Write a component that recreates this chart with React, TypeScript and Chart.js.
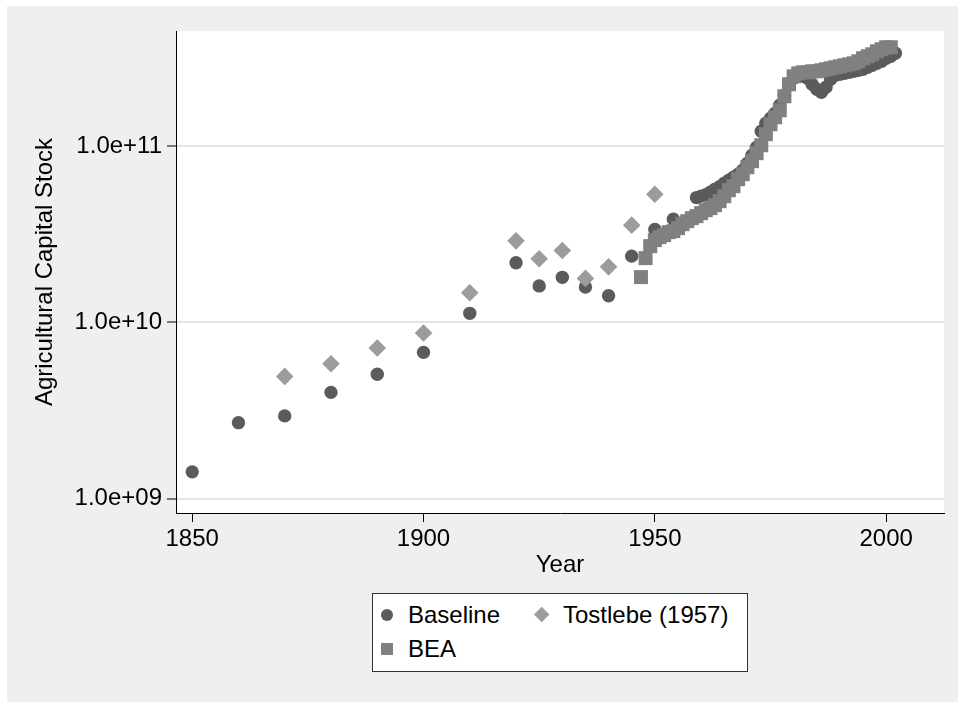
import React, { useEffect, useRef } from 'react';
import { Chart, registerables } from 'chart.js';

Chart.register(...registerables);

// ---------- data ----------
const baselineYears = [
  1850, 1860, 1870, 1880, 1890, 1900, 1910, 1920, 1925, 1930, 1935, 1940, 1945, 1950, 1954,
  1959, 1960, 1961, 1962, 1963, 1964, 1965, 1966, 1967, 1968, 1969, 1970, 1971, 1972, 1973,
  1974, 1975, 1976, 1977, 1978, 1979, 1980, 1981, 1982, 1983, 1984, 1985, 1986, 1987, 1988,
  1989, 1990, 1991, 1992, 1993, 1994, 1995, 1996, 1997, 1998, 1999, 2000, 2001, 2002,
];
const baselineValues = [
  1.42e9, 2.70e9, 2.95e9, 4.01e9, 5.08e9, 6.76e9, 1.125e10, 2.18e10, 1.61e10, 1.80e10, 1.585e10, 1.415e10, 2.375e10, 3.365e10, 3.85e10,
  5.10e10, 5.20e10, 5.30e10, 5.47e10, 5.69e10, 5.88e10, 6.15e10, 6.40e10, 6.66e10, 6.92e10, 7.29e10, 7.99e10, 8.87e10, 9.84e10, 1.213e11,
  1.347e11, 1.437e11, 1.534e11, 1.703e11, 1.941e11, 2.269e11, 2.422e11, 2.486e11, 2.486e11, 2.422e11, 2.239e11, 2.098e11, 2.017e11, 2.154e11, 2.391e11,
  2.518e11, 2.551e11, 2.585e11, 2.619e11, 2.653e11, 2.688e11, 2.724e11, 2.796e11, 2.870e11, 2.945e11, 3.024e11, 3.145e11, 3.228e11, 3.357e11,
];

const tostlebeYears = [1870, 1880, 1890, 1900, 1910, 1920, 1925, 1930, 1935, 1940, 1945, 1950];
const tostlebeValues = [4.94e9, 5.83e9, 7.15e9, 8.70e9, 1.471e10, 2.90e10, 2.293e10, 2.558e10, 1.776e10, 2.065e10, 3.558e10, 5.33e10];

const beaYears = [
  1947, 1948, 1949, 1950, 1951, 1952, 1953, 1954, 1955, 1956, 1957, 1958, 1959, 1960, 1961,
  1962, 1963, 1964, 1965, 1966, 1967, 1968, 1969, 1970, 1971, 1972, 1973, 1974, 1975, 1976,
  1977, 1978, 1979, 1980, 1981, 1982, 1983, 1984, 1985, 1986, 1987, 1988, 1989, 1990, 1991,
  1992, 1993, 1994, 1995, 1996, 1997, 1998, 1999, 2000, 2001,
];
const beaValues = [
  1.806e10, 2.314e10, 2.706e10, 2.927e10, 3.043e10, 3.123e10, 3.248e10, 3.291e10, 3.422e10, 3.605e10, 3.749e10, 3.899e10, 4.003e10, 4.162e10, 4.328e10,
  4.443e10, 4.620e10, 4.868e10, 5.195e10, 5.618e10, 5.919e10, 6.485e10, 6.922e10, 7.585e10, 8.203e10, 9.105e10, 1.010e11, 1.167e11, 1.329e11, 1.456e11,
  1.595e11, 1.915e11, 2.239e11, 2.486e11, 2.585e11, 2.619e11, 2.619e11, 2.653e11, 2.653e11, 2.688e11, 2.724e11, 2.760e11, 2.796e11, 2.833e11, 2.870e11,
  2.907e11, 2.945e11, 3.024e11, 3.145e11, 3.228e11, 3.313e11, 3.445e11, 3.535e11, 3.630e11, 3.630e11,
];

const xTickValues = [1850, 1900, 1950, 2000];
const yTickValues = [1e9, 1e10, 1e11];
const yTickLabels = ['1.0e+09', '1.0e+10', '1.0e+11'];

const seriesLabels = ['Baseline', 'Tostlebe (1957)', 'BEA'];

// ---------- style ----------
const FONT = '"Liberation Sans", Arial, Helvetica, sans-serif';
const BASE_COLOR = '#5b5b5b';
const TOST_COLOR = '#9c9c9c';
const BEA_COLOR = '#808080';
const BG_GRAY = '#efefef';

const bgPlugin = {
  id: 'stataBg',
  beforeDraw(chart: any) {
    const { ctx, width, height, chartArea } = chart;
    ctx.save();
    ctx.fillStyle = '#ffffff';
    ctx.fillRect(0, 0, width, height);
    ctx.fillStyle = BG_GRAY;
    ctx.fillRect(7, 6, width - 7, height - 6);
    ctx.fillStyle = '#ffffff';
    ctx.fillRect(chartArea.left, chartArea.top, chartArea.right - chartArea.left, chartArea.bottom - chartArea.top);
    ctx.restore();
  },
};

function pts(xs: number[], ys: number[]) {
  return xs.map((x, i) => ({ x, y: ys[i] }));
}

export default function App() {
  const canvasRef = useRef<HTMLCanvasElement | null>(null);

  useEffect(() => {
    if (!canvasRef.current) return;
    Chart.defaults.font.family = FONT;
    const chart = new Chart(canvasRef.current, {
      type: 'scatter',
      data: {
        datasets: [
          {
            label: seriesLabels[0],
            data: pts(baselineYears, baselineValues),
            pointStyle: 'circle',
            pointRadius: 6.7,
            backgroundColor: BASE_COLOR,
            borderColor: BASE_COLOR,
            borderWidth: 0,
            order: 3,
          },
          {
            label: seriesLabels[1],
            data: pts(tostlebeYears, tostlebeValues),
            pointStyle: 'rectRot',
            pointRadius: 8.8,
            backgroundColor: TOST_COLOR,
            borderColor: TOST_COLOR,
            borderWidth: 0,
            order: 2,
          },
          {
            label: seriesLabels[2],
            data: pts(beaYears, beaValues),
            pointStyle: 'rect',
            pointRadius: 9.9,
            backgroundColor: BEA_COLOR,
            borderColor: BEA_COLOR,
            borderWidth: 0,
            order: 1,
          },
        ] as any,
      },
      options: {
        animation: false,
        responsive: false,
        maintainAspectRatio: false,
        events: [],
        layout: { padding: { left: 0, top: 31, right: 14, bottom: 119 } },
        plugins: { legend: { display: false }, tooltip: { enabled: false } },
        scales: {
          x: {
            type: 'linear',
            min: 1846.5,
            max: 2012.5,
            afterBuildTicks: (s: any) => {
              s.ticks = xTickValues.map((v) => ({ value: v }));
            },
            afterFit: (s: any) => {
              s.height = 70;
            },
            grid: { drawOnChartArea: false, drawTicks: true, tickLength: 9, tickColor: '#000', tickWidth: 1 },
            border: { display: true, color: '#000', width: 1 },
            ticks: {
              color: '#000',
              font: { size: 24 },
              padding: 3,
              maxRotation: 0,
              autoSkip: false,
              callback: (v: any) => String(v),
            },
            title: { display: true, text: 'Year', color: '#000', font: { size: 24 }, padding: { top: 0, bottom: 3.6 } },
          },
          y: {
            type: 'logarithmic',
            min: 8.3e8,
            max: 4.49e11,
            afterBuildTicks: (s: any) => {
              s.ticks = yTickValues.map((v) => ({ value: v }));
            },
            afterFit: (s: any) => {
              s.width = 176;
            },
            grid: { color: '#e4e4e4', lineWidth: 2, drawTicks: true, tickLength: 9, tickColor: '#000', tickWidth: 1 },
            border: { display: true, color: '#000', width: 1 },
            ticks: {
              color: '#000',
              font: { size: 24 },
              padding: 5,
              autoSkip: false,
              callback: (v: any) => {
                const i = yTickValues.indexOf(Number(v));
                return i >= 0 ? yTickLabels[i] : '';
              },
            },
            title: {
              display: true,
              text: 'Agricultural Capital Stock',
              color: '#000',
              font: { size: 24 },
              padding: { top: 30.6, bottom: 0 },
            },
          },
        },
      } as any,
      plugins: [bgPlugin],
    });
    return () => chart.destroy();
  }, []);

  const textStyle = (left: number, cy: number): React.CSSProperties => ({
    position: 'absolute',
    left,
    top: cy - 14,
    height: 28,
    lineHeight: '28px',
    fontSize: 24,
    fontFamily: FONT,
    color: '#000',
    whiteSpace: 'nowrap',
  });

  return (
    <div style={{ position: 'fixed', left: 0, top: 0, width: 958, height: 702, background: '#fff' }}>
      <canvas ref={canvasRef} width={958} height={702} style={{ display: 'block', width: 958, height: 702 }} />
      <div
        style={{
          position: 'absolute',
          left: 372,
          top: 593,
          width: 376,
          height: 79,
          boxSizing: 'border-box',
          border: '1px solid #333',
          background: '#fff',
        }}
      />
      <div style={{ position: 'absolute', left: 381, top: 609, width: 12, height: 12, borderRadius: '50%', background: BASE_COLOR }} />
      <div style={textStyle(408, 615)}>{seriesLabels[0]}</div>
      <div
        style={{
          position: 'absolute',
          left: 542 - 5.7,
          top: 615 - 5.7,
          width: 11.4,
          height: 11.4,
          background: TOST_COLOR,
          transform: 'rotate(45deg)',
        }}
      />
      <div style={textStyle(563, 615)}>{seriesLabels[1]}</div>
      <div style={{ position: 'absolute', left: 381, top: 643, width: 12, height: 12, background: BEA_COLOR }} />
      <div style={textStyle(408, 649)}>{seriesLabels[2]}</div>
    </div>
  );
}
